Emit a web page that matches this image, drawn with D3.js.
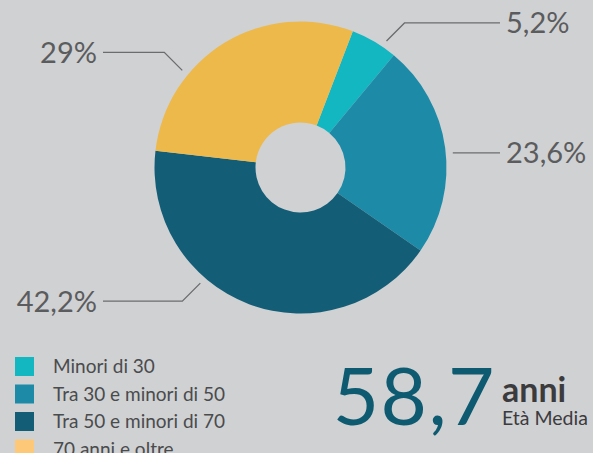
<!DOCTYPE html>
<html>
<head>
<meta charset="utf-8">
<script src="https://cdn.jsdelivr.net/npm/d3@7"></script>
<style>
  html, body { margin: 0; padding: 0; background: #d0d1d3; }
  svg { display: block; }
  text { font-family: Lato, "Open Sans", sans-serif; }
</style>
</head>
<body>
<svg id="chart" width="593" height="453"></svg>
<script>
// Age groups and their shares (%)
const categories = ["Minori di 30", "Tra 30 e minori di 50", "Tra 50 e minori di 70", "70 anni e oltre"];
const shares = [5.2, 23.6, 42.2, 29];
const shareLabels = ["5,2%", "23,6%", "42,2%", "29%"];
const averageAge = "58,7";
const averageUnit = "anni";
const averageCaption = "Età Media";

const sliceColors = ["#13b7c2", "#1d8ba8", "#145d76", "#edb94b"];
const legendColors = ["#13b7c2", "#1d8ba8", "#145d76", "#fdc877"];

const svg = d3.select("#chart");
const cx = 300.5, cy = 167.5, rOuter = 146, rInner = 45;
const deg = Math.PI / 180;

const pie = d3.pie().sort(null).value(d => d)
  .startAngle(21 * deg).endAngle(381 * deg);
const arcs = pie(shares);
const arc = d3.arc().innerRadius(rInner).outerRadius(rOuter);

const g = svg.append("g").attr("transform", `translate(${cx},${cy})`);
g.selectAll("path.slice").data(arcs).join("path")
  .attr("class", "slice")
  .attr("d", arc)
  .attr("fill", (d, i) => sliceColors[i]);

// Leader lines: anchor angle on each slice, a short 45° kink, then a horizontal run
const leaderLayout = [
  { angle: 34.2, side: "right", kink: 18 },
  { angle: 84.5, side: "right", kink: 0 },
  { angle: 220.9, side: "left", kink: 18 },
  { angle: 309.4, side: "left", kink: 18 }
];
const leaderR = 153;
const rightEnd = 500, leftEnd = 103;

arcs.forEach((a, i) => {
  const L = leaderLayout[i];
  // keep anchor inside the slice
  const ang = Math.min(Math.max(L.angle * deg, a.startAngle), a.endAngle);
  const x0 = cx + leaderR * Math.sin(ang);
  const y0 = cy - leaderR * Math.cos(ang);
  const sx = L.side === "right" ? 1 : -1;
  const sy = y0 < cy ? -1 : 1;
  const x1 = x0 + sx * L.kink, y1 = y0 + sy * L.kink;
  const x2 = L.side === "right" ? rightEnd : leftEnd;
  svg.append("path")
    .attr("d", d3.line()([[x0, y0], [x1, y1], [x2, y1]]))
    .attr("fill", "none")
    .attr("stroke", "#6b6c6e")
    .attr("stroke-width", 1.3);
  svg.append("text")
    .attr("x", L.side === "right" ? x2 + 6 : x2 - 6)
    .attr("y", y1)
    .attr("dy", "0.36em")
    .attr("text-anchor", L.side === "right" ? "start" : "end")
    .attr("fill", "#5b5c5e")
    .attr("font-size", 29)
    .attr("font-weight", 400)
    .text(shareLabels[i]);
});

// Legend
const legend = svg.append("g").attr("transform", "translate(15,357)");
const rowStep = 27.5;
categories.forEach((c, i) => {
  const row = legend.append("g").attr("transform", `translate(0,${i * rowStep})`);
  row.append("rect").attr("width", 19).attr("height", 19).attr("fill", legendColors[i]);
  row.append("text")
    .attr("x", 38).attr("y", 9.5).attr("dy", "0.36em")
    .attr("fill", "#4a4b4d")
    .attr("font-size", 19)
    .attr("font-weight", 400)
    .text(c);
});

// Average age block
svg.append("text")
  .attr("x", 496).attr("y", 425)
  .attr("text-anchor", "end")
  .attr("fill", "#0e5a70")
  .attr("font-size", 80)
  .attr("letter-spacing", 1.5)
  .attr("font-weight", 400)
  .text(averageAge);
svg.append("text")
  .attr("x", 502).attr("y", 402)
  .attr("fill", "#3b3b3e")
  .attr("font-size", 34)
  .attr("font-weight", 700)
  .text(averageUnit);
svg.append("text")
  .attr("x", 502).attr("y", 425)
  .attr("fill", "#3b3b3e")
  .attr("font-size", 19.5)
  .attr("font-weight", 400)
  .text(averageCaption);
</script>
</body>
</html>
